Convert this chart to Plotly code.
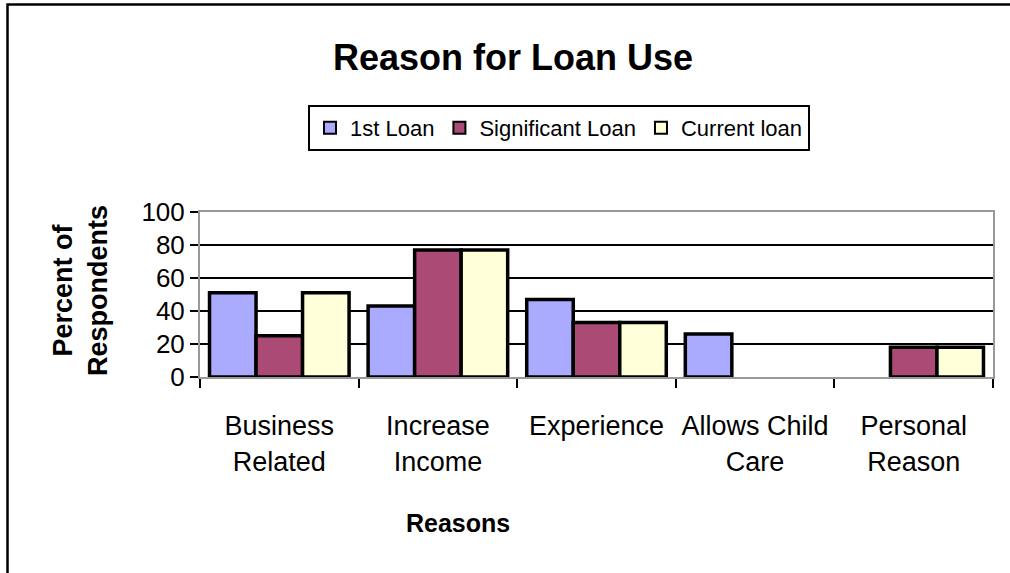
import plotly.graph_objects as go

categories = ["Business<br>Related", "Increase<br>Income", "Experience",
              "Allows Child<br>Care", "Personal<br>Reason"]
first_loan = [51, 43, 47, 26, 0]
significant_loan = [25, 77, 33, 0, 18]
current_loan = [51, 77, 33, 0, 18]

series = [
    ("1st Loan", first_loan, "#AAAAFF"),
    ("Significant Loan", significant_loan, "#AA4A75"),
    ("Current loan", current_loan, "#FFFFD9"),
]

FONT = "Liberation Sans, Arial, sans-serif"

fig = go.Figure()
for name, vals, color in series:
    # zero-height bars are left out so no outline sits on the baseline
    fig.add_trace(go.Bar(
        x=categories, y=[v if v else None for v in vals], name=name,
        marker=dict(color=color, line=dict(color="black", width=3.5)),
    ))

W, H = 1010, 573
L, R, T, B = 200, 17, 212, 196
pw, ph = W - L - R, H - T - B


def px_x(x):
    return (x - L) / pw


def px_y(y):
    return (H - B - y) / ph


fig.update_layout(
    width=W, height=H,
    margin=dict(l=L, r=R, t=T, b=B),
    paper_bgcolor="white", plot_bgcolor="white",
    barmode="group", bargap=0.12, bargroupgap=0,
    showlegend=True,
    legend=dict(
        orientation="h", x=px_x(559), y=px_y(128),
        xanchor="center", yanchor="middle",
        bordercolor="black", borderwidth=2, bgcolor="white",
        font=dict(family=FONT, size=22, color="black"),
        itemsizing="constant", itemwidth=30,
    ),
    xaxis=dict(
        type="category", tickson="boundaries", ticks="outside", ticklen=9,
        tickwidth=2, tickcolor="black", tickangle=0,
        showline=True, linecolor="#999999", linewidth=2, mirror=True,
        tickfont=dict(family=FONT, size=27, color="black"),
        ticklabelstandoff=24,
        showgrid=False,
    ),
    yaxis=dict(
        range=[0, 100], dtick=20, ticks="outside", ticklen=8, tickwidth=2,
        tickcolor="black",
        showline=True, linecolor="#999999", linewidth=2, mirror=True,
        showgrid=True, gridcolor="black", gridwidth=2,
        tickfont=dict(family=FONT, size=26, color="black"),
        zeroline=False,
    ),
    shapes=[
        # outer chart frame; only its left and top edges fall on the page
        dict(type="rect", xref="paper", yref="paper",
             x0=px_x(7.5), y0=px_y(4.5), x1=px_x(1040), y1=px_y(610),
             line=dict(color="black", width=2.5), fillcolor="rgba(0,0,0,0)",
             layer="below"),
    ],
    annotations=[
        dict(text="<b>Reason for Loan Use</b>", xref="paper", yref="paper",
             x=px_x(513), y=px_y(57), xanchor="center", yanchor="middle",
             showarrow=False, font=dict(family=FONT, size=36, color="black")),
        dict(text="<b>Reasons</b>", xref="paper", yref="paper",
             x=px_x(458), y=px_y(523), xanchor="center", yanchor="middle",
             showarrow=False, font=dict(family=FONT, size=25, color="black")),
        dict(text="<b>Percent of<br>Respondents</b>", xref="paper", yref="paper",
             x=px_x(80), y=px_y(291), xanchor="center", yanchor="middle",
             textangle=-90, showarrow=False,
             font=dict(family=FONT, size=27, color="black")),
    ],
)

fig.write_html("out.html", config={"displayModeBar": False})
